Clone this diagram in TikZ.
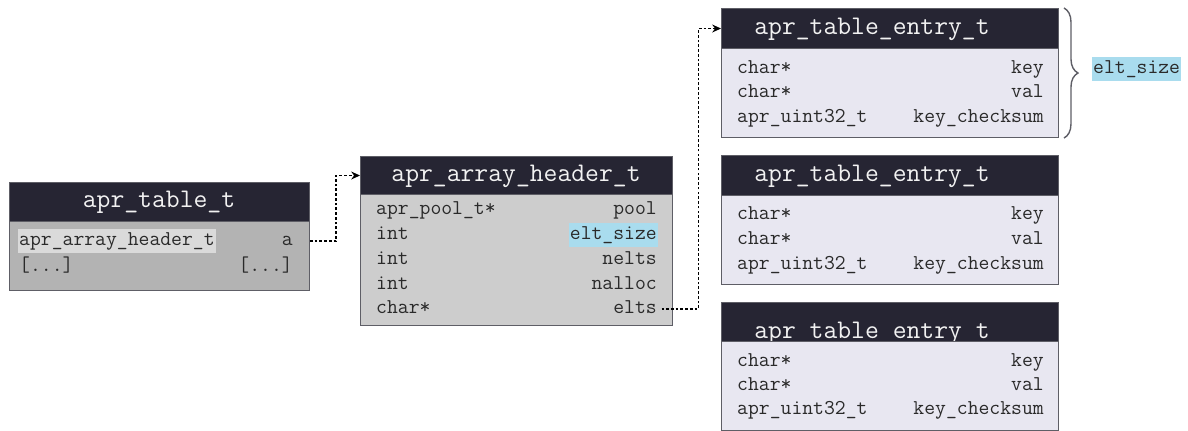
\documentclass[tikz,border=0pt]{standalone}
\usepackage{fontspec}
\usetikzlibrary{arrows.meta,decorations.pathreplacing}
\definecolor{hdrcol}{HTML}{262533}
\definecolor{framecol}{HTML}{5E5E66}
\definecolor{ttlcol}{HTML}{F2F2F2}
\definecolor{txtcol}{HTML}{2A2A2A}
\definecolor{tblfill}{HTML}{B3B3B3}
\definecolor{arrfill}{HTML}{CDCDCD}
\definecolor{entfill}{HTML}{E8E7F1}
\definecolor{hlgrey}{HTML}{DADADA}
\definecolor{hlblue}{HTML}{A9DCEE}
\tikzset{
  hdr/.style={draw=framecol, fill=hdrcol, anchor=north west, inner sep=0pt, line width=0.6pt},
  body/.style={draw=framecol, anchor=north west, inner sep=0pt, line width=0.6pt},
  ttl/.style={text=ttlcol, inner sep=0pt, font=\ttfamily\fontsize{15.3}{17}\selectfont},
  fld/.style={anchor=west, text=txtcol, inner xsep=0.5pt, inner ysep=1.5pt,
    text height=7.8pt, text depth=2.4pt, font=\ttfamily\fontsize{12}{14}\selectfont},
  fname/.style={fld, anchor=east},
  link/.style={line width=0.7pt, dash pattern=on 1.5pt off 1.2pt,
    -{Stealth[length=5pt,width=4.5pt]}},
  brc/.style={decorate, decoration={brace, amplitude=0.28cm}, line width=0.8pt, draw=framecol}
}
\begin{document}
\begin{tikzpicture}[x=0.02cm, y=-0.02cm]
\useasboundingbox (0,0) rectangle (1188,431);
% apr_table_t
\node[hdr, minimum width=6cm, minimum height=0.78cm] (tblhdr) at (9,182) {};
\node[body, fill=tblfill, minimum width=6cm, minimum height=1.38cm] (tblbody) at (9,221) {};
\node[ttl] (tblttl) at (159,202) {apr\_table\_t};
\node[fld, fill=hlgrey] (tbltype) at (18,241) {apr\_array\_header\_t};
\node[fname] (tbla) at (294,241) {a};
\node[fld] (tblrest) at (18,267) {[...]};
\node[fname] (tblrestn) at (294,267) {[...]};
% apr_array_header_t
\node[hdr, minimum width=6.24cm, minimum height=0.76cm] (arrhdr) at (360,156) {};
\node[body, fill=arrfill, minimum width=6.24cm, minimum height=2.62cm] (arrbody) at (360,194) {};
\node[ttl] (arrttl) at (516,176) {apr\_array\_header\_t};
\node[fld] (arrt1) at (375,210) {apr\_pool\_t*};
\node[fname] (arrpool) at (658,210) {pool};
\node[fld] (arrt2) at (375,235) {int};
\node[fname, fill=hlblue] (arrsize) at (658,235) {elt\_size};
\node[fld] (arrt3) at (375,260) {int};
\node[fname] (arrnelts) at (658,260) {nelts};
\node[fld] (arrt4) at (375,285) {int};
\node[fname] (arrnalloc) at (658,285) {nalloc};
\node[fld] (arrt5) at (375,309) {char*};
\node[fname] (arrelts) at (658,309) {elts};
% apr_table_entry_t (three of them)
\node[hdr, minimum width=6.74cm, minimum height=0.8cm] (ent1hdr) at (721,8) {};
\node[body, fill=entfill, minimum width=6.74cm, minimum height=1.78cm] (ent1body) at (721,48) {};
\node[ttl] (ent1ttl) at (872,29) {apr\_table\_entry\_t};
\node[fld] (ent1t1) at (736,69) {char*};
\node[fname] (ent1key) at (1045,69) {key};
\node[fld] (ent1t2) at (736,93) {char*};
\node[fname] (ent1val) at (1045,93) {val};
\node[fld] (ent1t3) at (736,118) {apr\_uint32\_t};
\node[fname] (ent1sum) at (1045,118) {key\_checksum};

\node[hdr, minimum width=6.74cm, minimum height=0.8cm] (ent2hdr) at (721,155) {};
\node[body, fill=entfill, minimum width=6.74cm, minimum height=1.78cm] (ent2body) at (721,195) {};
\node[ttl] (ent2ttl) at (872,176) {apr\_table\_entry\_t};
\node[fld] (ent2t1) at (736,215) {char*};
\node[fname] (ent2key) at (1045,215) {key};
\node[fld] (ent2t2) at (736,240) {char*};
\node[fname] (ent2val) at (1045,240) {val};
\node[fld] (ent2t3) at (736,265) {apr\_uint32\_t};
\node[fname] (ent2sum) at (1045,265) {key\_checksum};

\node[hdr, minimum width=6.74cm, minimum height=0.78cm] (ent3hdr) at (721,302) {};
\node[ttl] (ent3ttl) at (872,333) {apr\_table\_entry\_t};
\node[body, fill=entfill, minimum width=6.74cm, minimum height=1.78cm] (ent3body) at (721,341) {};
\node[fld] (ent3t1) at (736,362) {char*};
\node[fname] (ent3key) at (1045,362) {key};
\node[fld] (ent3t2) at (736,386) {char*};
\node[fname] (ent3val) at (1045,386) {val};
\node[fld] (ent3t3) at (736,410) {apr\_uint32\_t};
\node[fname] (ent3sum) at (1045,410) {key\_checksum};
% size of one entry
\draw[brc] ([xshift=0.1cm]ent1hdr.north east) -- ([xshift=0.1cm]ent1body.south east);
\node[fld, fill=hlblue] (eltlbl) at (1092,69) {elt\_size};
% pointers
\draw[link] (tblbody.east |- tbla) -- ++(26,0) |- (arrhdr.west);
\draw[link] ([xshift=2pt]arrelts.east) -- ++(37,0) |- (ent1hdr.west);
\end{tikzpicture}
\end{document}
